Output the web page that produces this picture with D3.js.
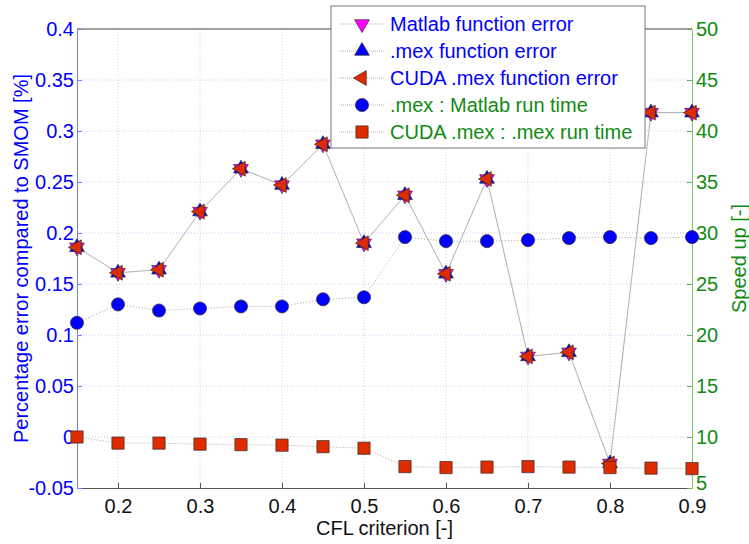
<!DOCTYPE html>
<html>
<head>
<meta charset="utf-8">
<script src="https://cdn.jsdelivr.net/npm/d3@7"></script>
<style>
  body { margin: 0; background: #fff; }
  svg text { font-family: "Liberation Sans", Arial, sans-serif; }
</style>
</head>
<body>
<div id="chart"></div>
<script>
const margin = { top: 29, right: 57, bottom: 56, left: 77 },
    width = 749 - margin.left - margin.right,
    height = 544 - margin.top - margin.bottom;

// data
const cfl = [0.15, 0.2, 0.25, 0.3, 0.35, 0.4, 0.45, 0.5, 0.55, 0.6, 0.65, 0.7, 0.75, 0.8, 0.85, 0.9];
const matlabError = [0.186, 0.161, 0.164, 0.221, 0.263, 0.247, 0.287, 0.190, 0.237, 0.160, 0.253, 0.079, 0.083, -0.026, 0.318, 0.318];
const mexError = [0.186, 0.161, 0.164, 0.221, 0.263, 0.247, 0.287, 0.190, 0.237, 0.160, 0.253, 0.079, 0.083, -0.026, 0.318, 0.318];
const cudaError = [0.186, 0.161, 0.164, 0.221, 0.263, 0.247, 0.287, 0.190, 0.237, 0.160, 0.253, 0.079, 0.083, -0.026, 0.318, 0.318];
const mexSpeedup = [21.2, 23.0, 22.4, 22.6, 22.8, 22.8, 23.5, 23.7, 29.6, 29.2, 29.2, 29.3, 29.5, 29.6, 29.5, 29.6];
const cudaSpeedup = [10.0, 9.4, 9.4, 9.3, 9.25, 9.2, 9.05, 8.9, 7.1, 7.0, 7.05, 7.1, 7.05, 7.0, 6.95, 6.9];

const xTicks = [0.2, 0.3, 0.4, 0.5, 0.6, 0.7, 0.8, 0.9];
const yLeftTicks = [-0.05, 0, 0.05, 0.1, 0.15, 0.2, 0.25, 0.3, 0.35, 0.4];
const yLeftLabels = ["-0.05", "0", "0.05", "0.1", "0.15", "0.2", "0.25", "0.3", "0.35", "0.4"];
const yRightTicks = [5, 10, 15, 20, 25, 30, 35, 40, 45, 50];
const legendLabels = ["Matlab function error", ".mex function error", "CUDA .mex function error",
    ".mex : Matlab run time", "CUDA .mex : .mex run time"];

const blue = "#0000ff", green = "#128a12", red = "#dd2c00", magenta = "#ff00ff";
const fs = 20;

const svg = d3.select("#chart")
    .append("svg")
    .attr("width", width + margin.left + margin.right)
    .attr("height", height + margin.top + margin.bottom)
    .append("g")
    .attr("transform", `translate(${margin.left},${margin.top})`);

const x = d3.scaleLinear().domain([0.15, 0.9]).range([0, width]);
const yL = d3.scaleLinear().domain([-0.05, 0.4]).range([height, 0]);
const yR = d3.scaleLinear().domain([5, 50]).range([height, 0]);

// grid
svg.append("g")
    .selectAll("line")
    .data(xTicks)
    .join("line")
    .attr("x1", d => x(d)).attr("x2", d => x(d))
    .attr("y1", 0).attr("y2", height)
    .attr("stroke", "#d4d4d4").attr("stroke-dasharray", "1,2");
svg.append("g")
    .selectAll("line")
    .data(yLeftTicks.slice(1, -1))
    .join("line")
    .attr("x1", 0).attr("x2", width)
    .attr("y1", d => yL(d)).attr("y2", d => yL(d))
    .attr("stroke", "#c8c8f4").attr("stroke-dasharray", "1,2");

// top border
svg.append("line")
    .attr("x1", 0).attr("x2", width).attr("y1", 0).attr("y2", 0)
    .attr("stroke", "#444");

// axes
const xAxis = svg.append("g")
    .attr("transform", `translate(0,${height})`)
    .call(d3.axisBottom(x).tickValues(xTicks).tickSizeInner(-5).tickSizeOuter(0).tickPadding(11).tickFormat(d3.format(".1f")));
xAxis.select(".domain").attr("stroke", "#555");
xAxis.selectAll(".tick line").attr("stroke", "#555");
xAxis.selectAll("text").attr("font-size", fs).attr("fill", "#111");

const yAxisL = svg.append("g")
    .call(d3.axisLeft(yL).tickValues(yLeftTicks).tickSizeInner(-5).tickSizeOuter(0).tickPadding(3)
        .tickFormat((d, i) => yLeftLabels[i]));
yAxisL.select(".domain").attr("stroke", "#7b7bff");
yAxisL.selectAll(".tick line").attr("stroke", "#7b7bff");
yAxisL.selectAll("text").attr("font-size", fs).attr("fill", blue);

const yAxisR = svg.append("g")
    .attr("transform", `translate(${width},0)`)
    .call(d3.axisRight(yR).tickValues(yRightTicks).tickSizeInner(-5).tickSizeOuter(0).tickPadding(4));
yAxisR.select(".domain").attr("stroke", "#7fc77f");
yAxisR.selectAll(".tick line").attr("stroke", "#5fb35f");
yAxisR.selectAll("text").attr("font-size", fs).attr("fill", green);
yAxisR.selectAll("text").filter(d => d === 5).attr("dy", "0.05em");

// axis labels
svg.append("text")
    .attr("x", width / 2).attr("y", height + 47)
    .attr("text-anchor", "middle").attr("font-size", 20).attr("fill", "#111")
    .text("CFL criterion [-]");
svg.append("text")
    .attr("transform", `translate(${-49},${height / 2}) rotate(-90)`)
    .attr("text-anchor", "middle").attr("font-size", 20).attr("fill", blue)
    .text("Percentage error compared to SMOM [%]");
svg.append("text")
    .attr("transform", `translate(${width + 54},${height / 2}) rotate(-90)`)
    .attr("text-anchor", "middle").attr("font-size", 20).attr("fill", green)
    .text("Speed up [-]");

// markers
const tri = d3.symbol().type(d3.symbolTriangle).size(95);
const symbols = {
    down: { path: tri(), rot: 180, fill: magenta },
    up: { path: tri(), rot: 0, fill: blue },
    left: { path: tri(), rot: -90, fill: red },
    circle: { path: d3.symbol().type(d3.symbolCircle).size(135)(), rot: 0, fill: blue },
    square: { path: d3.symbol().type(d3.symbolSquare).size(150)(), rot: 0, fill: red }
};

const series = [
    { values: matlabError, scale: yL, sym: "down" },
    { values: mexError, scale: yL, sym: "up" },
    { values: cudaError, scale: yL, sym: "left" },
    { values: mexSpeedup, scale: yR, sym: "circle" },
    { values: cudaSpeedup, scale: yR, sym: "square" }
];

series.forEach((s, i) => {
    const line = d3.line().x((d, j) => x(cfl[j])).y(d => s.scale(d));
    svg.append("path")
        .datum(s.values)
        .attr("d", line)
        .attr("fill", "none")
        .attr("stroke", "#9a9a9a")
        .attr("stroke-width", 0.9)
        .attr("stroke-dasharray", "1,2")
        .attr("stroke-dashoffset", i);
});

series.forEach(s => {
    const sym = symbols[s.sym];
    svg.append("g")
        .selectAll("path")
        .data(s.values)
        .join("path")
        .attr("d", sym.path)
        .attr("transform", (d, j) => `translate(${x(cfl[j])},${s.scale(d)}) rotate(${sym.rot})`)
        .attr("fill", sym.fill)
        .attr("stroke", "#3a2a2a")
        .attr("stroke-width", 0.7);
});

// legend
const legend = svg.append("g").attr("transform", `translate(${331 - margin.left},${6 - margin.top})`);
legend.append("rect")
    .attr("width", 314).attr("height", 142)
    .attr("fill", "#fff").attr("stroke", "#777").attr("stroke-width", 1);
legendLabels.forEach((label, i) => {
    const gy = 18 + i * 27;
    const sym = symbols[series[i].sym];
    legend.append("line")
        .attr("x1", 8).attr("x2", 54).attr("y1", gy).attr("y2", gy)
        .attr("stroke", "#aaa").attr("stroke-width", 0.9).attr("stroke-dasharray", "1,1");
    legend.append("path")
        .attr("d", sym.path)
        .attr("transform", `translate(31,${gy}) rotate(${sym.rot})`)
        .attr("fill", sym.fill).attr("stroke", "#3a2a2a").attr("stroke-width", 0.7);
    legend.append("text")
        .attr("x", 59).attr("y", gy + 7)
        .attr("font-size", fs)
        .attr("fill", i < 3 ? blue : green)
        .text(label);
});
</script>
</body>
</html>
